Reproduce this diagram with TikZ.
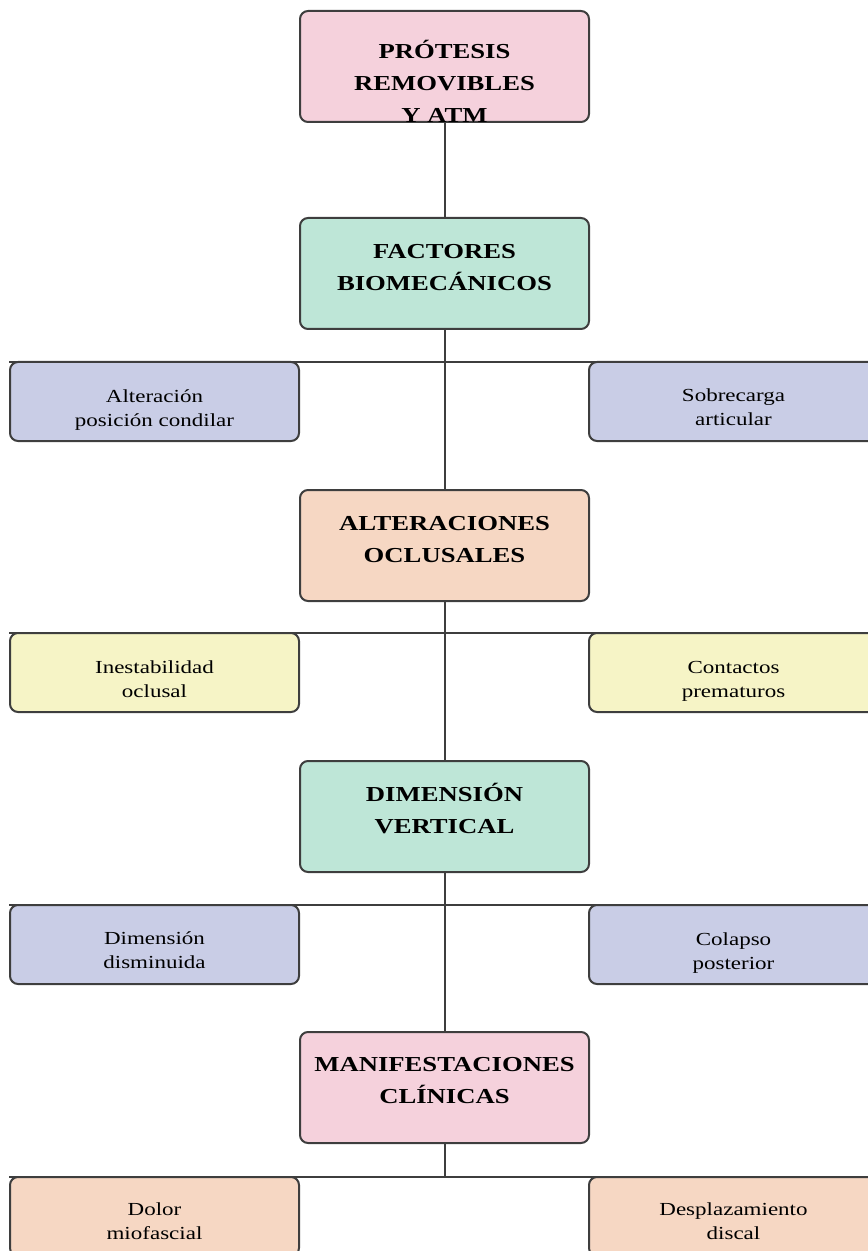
\documentclass[tikz,border=0pt]{standalone}
\usepackage{fontspec}
\setmainfont[FakeStretch=1.25]{Liberation Serif}
\usetikzlibrary{positioning,backgrounds}

\definecolor{boxline}{RGB}{62,62,62}
\definecolor{pinkfill}{RGB}{245,209,220}
\definecolor{greenfill}{RGB}{190,230,215}
\definecolor{peachfill}{RGB}{246,215,195}
\definecolor{lilacfill}{RGB}{201,205,230}
\definecolor{yellowfill}{RGB}{246,244,198}

\tikzset{every picture/.style={line width=0.75pt}}

\begin{document}
\begin{tikzpicture}[x=0.75pt,y=0.75pt,yscale=-1,xscale=1,
  mainbox/.style={draw=boxline, line width=1.5pt, rounded corners=6pt, minimum width=216.75pt, minimum height=83.25pt, inner sep=0pt},
  maintext/.style={anchor=north, align=center, inner sep=0pt, font=\bfseries\fontsize{16}{24}\selectfont},
  sidebox/.style={draw=boxline, line width=1.5pt, rounded corners=6pt, minimum width=216.75pt, minimum height=59.25pt, inner sep=0pt},
  sidetext/.style={align=center, inner sep=0pt, font=\fontsize{13.8}{18}\selectfont},
  trunk/.style={draw=boxline, line width=1.5pt}]
\useasboundingbox (0,0) rectangle (867,1251);

% main column
\node[mainbox, fill=pinkfill] (b1) at (444.5,66.5) {};
\node[mainbox, fill=greenfill] (b2) at (444.5,273.5) {};
\node[mainbox, fill=peachfill] (b3) at (444.5,545.5) {};
\node[mainbox, fill=greenfill] (b4) at (444.5,816.5) {};
\node[mainbox, fill=pinkfill] (b5) at (444.5,1087.5) {};

% titles
\node[maintext] (t1) at (444.5,40) {PRÓTESIS\\REMOVIBLES\\Y ATM};
\node[maintext] (t2) at (444.5,244) {FACTORES\\BIOMECÁNICOS};
\node[maintext] (t3) at (444.5,516) {ALTERACIONES\\OCLUSALES};
\node[maintext] (t4) at (444.5,783) {DIMENSIÓN\\VERTICAL};
\node[maintext] (t5) at (444.5,1057) {MANIFESTACIONES\\CLÍNICAS};

% side boxes
\node[sidebox, fill=lilacfill] (l1) at (154.5,401.5) {};
\node[sidebox, fill=lilacfill] (r1) at (733.5,401.5) {};
\node[sidebox, fill=yellowfill] (l2) at (154.5,672.5) {};
\node[sidebox, fill=yellowfill] (r2) at (733.5,672.5) {};
\node[sidebox, fill=lilacfill] (l3) at (154.5,944.5) {};
\node[sidebox, fill=lilacfill] (r3) at (733.5,944.5) {};
\node[sidebox, fill=peachfill] (l4) at (154.5,1216.5) {};
\node[sidebox, fill=peachfill] (r4) at (733.5,1216.5) {};

% side labels
\node[sidetext] (sl1) at (154.5,410.5) {Alteración\\posición condilar};
\node[sidetext] (sr1) at (733.5,407.5) {Sobrecarga\\articular};
\node[sidetext] (sl2) at (154.5,679.5) {Inestabilidad\\oclusal};
\node[sidetext] (sr2) at (733.5,681.5) {Contactos\\prematuros};
\node[sidetext] (sl3) at (154.5,950.5) {Dimensión\\disminuida};
\node[sidetext] (sr3) at (733.5,953.5) {Colapso\\posterior};
\node[sidetext] (sl4) at (154.5,1221.5) {Dolor\\miofascial};
\node[sidetext] (sr4) at (733.5,1221.5) {Desplazamiento\\discal};

% connectors
\begin{scope}[on background layer]
\draw[trunk] (b1.south) -- (b2.north);
\draw[trunk] (b2.south) -- (b3.north);
\draw[trunk] (b3.south) -- (b4.north);
\draw[trunk] (b4.south) -- (b5.north);
\draw[trunk] (b5.south) -- (b5.south |- l4.north);
\draw[trunk] ([yshift=1pt]l1.north west) -- ([yshift=1pt]r1.north east);
\draw[trunk] ([yshift=1pt]l2.north west) -- ([yshift=1pt]r2.north east);
\draw[trunk] ([yshift=1pt]l3.north west) -- ([yshift=1pt]r3.north east);
\draw[trunk] ([yshift=1pt]l4.north west) -- ([yshift=1pt]r4.north east);
\end{scope}
\end{tikzpicture}
\end{document}
